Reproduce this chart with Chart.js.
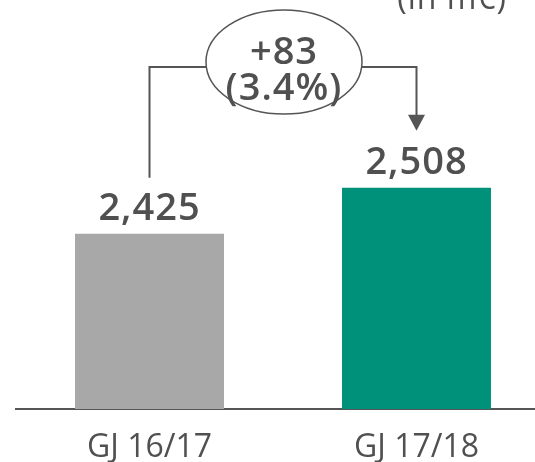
<!DOCTYPE html>
<html>
<head>
<meta charset="utf-8">
<script src="https://cdn.jsdelivr.net/npm/chart.js"></script>
<style>
  html, body { margin: 0; padding: 0; background: #fff; overflow: hidden; }
  #wrap { width: 535px; height: 462px; overflow: hidden; }
  canvas { display: block; }
</style>
</head>
<body>
<div id="wrap"><canvas id="revChart" width="550" height="462" style="width:550px;height:462px"></canvas></div>
<script>
const categories = ["GJ 16/17", "GJ 17/18"];
const revenue = [2425, 2508];
const barColors = ["#a7a8a7", "#00917a"];
const unitLabel = "(in m€)";

const textColor = "#505050";
const lineColor = "#555555";
const fontFamily = "'Open Sans', sans-serif";

const fmt = (v) => v.toLocaleString("en-US");

// Beschriftungen, Verbindungslinie mit Ellipse und Einheit
const annotations = {
  id: "annotations",
  afterDatasetsDraw(chart) {
    const { ctx } = chart;
    const bars = chart.getDatasetMeta(0).data;
    const b1 = bars[0], b2 = bars[1];

    ctx.save();
    ctx.fillStyle = textColor;
    ctx.textAlign = "center";
    ctx.textBaseline = "alphabetic";
    ctx.letterSpacing = "1px";
    ctx.font = "600 38px " + fontFamily;
    bars.forEach((b, i) => {
      ctx.fillText(fmt(revenue[i]), b.x, b.y - 14);
    });

    // Differenz
    const diff = revenue[1] - revenue[0];
    const pct = (diff / revenue[0] * 100).toFixed(1);
    const ex = (b1.x + b2.x) / 2 + 1;
    const ey = 62, rx = 78, ry = 52;
    const connY = 67;
    const dx = rx * Math.sqrt(1 - Math.pow((connY - ey) / ry, 2));

    ctx.strokeStyle = lineColor;
    ctx.lineWidth = 2;
    ctx.beginPath();
    ctx.moveTo(b1.x, b1.y - 56);
    ctx.lineTo(b1.x, connY);
    ctx.lineTo(ex - dx, connY);
    ctx.stroke();

    const tipY = b2.y - 57;
    ctx.beginPath();
    ctx.moveTo(ex + dx, connY);
    ctx.lineTo(b2.x, connY);
    ctx.lineTo(b2.x, tipY - 14);
    ctx.stroke();
    ctx.fillStyle = lineColor;
    ctx.beginPath();
    ctx.moveTo(b2.x - 8.5, tipY - 16);
    ctx.lineTo(b2.x + 8.5, tipY - 16);
    ctx.lineTo(b2.x, tipY);
    ctx.closePath();
    ctx.fill();

    ctx.lineWidth = 1.5;
    ctx.beginPath();
    ctx.ellipse(ex, ey, rx, ry, 0, 0, Math.PI * 2);
    ctx.stroke();

    ctx.fillStyle = textColor;
    ctx.font = "600 38px " + fontFamily;
    ctx.fillText("+" + diff, ex, 64);
    ctx.fillText("(" + pct + "%)", ex, 100);

    // Einheit oben rechts
    ctx.textAlign = "right";
    ctx.font = "32px " + fontFamily;
    ctx.fillText(unitLabel, 507, 9);
    ctx.restore();
  },
};

new Chart(document.getElementById("revChart"), {
  type: "bar",
  data: {
    labels: categories,
    datasets: [
      {
        data: revenue,
        backgroundColor: barColors,
        borderWidth: 0,
        categoryPercentage: 1,
        barPercentage: 0.558,
      },
    ],
  },
  options: {
    responsive: false,
    animation: false,
    devicePixelRatio: 1,
    layout: { padding: { top: 0, left: 16, right: 0, bottom: 0 } },
    plugins: { legend: { display: false }, tooltip: { enabled: false } },
    scales: {
      y: {
        display: false,
        min: 2109,
        max: 2847,
      },
      x: {
        afterFit: (scale) => { scale.height = 53; },
        grid: { display: false, drawTicks: false, tickLength: 0 },
        border: { display: true, color: lineColor, width: 2 },
        ticks: {
          color: textColor,
          padding: 20,
          font: { family: fontFamily, size: 32 },
        },
      },
    },
  },
  plugins: [annotations],
});
</script>
</body>
</html>
